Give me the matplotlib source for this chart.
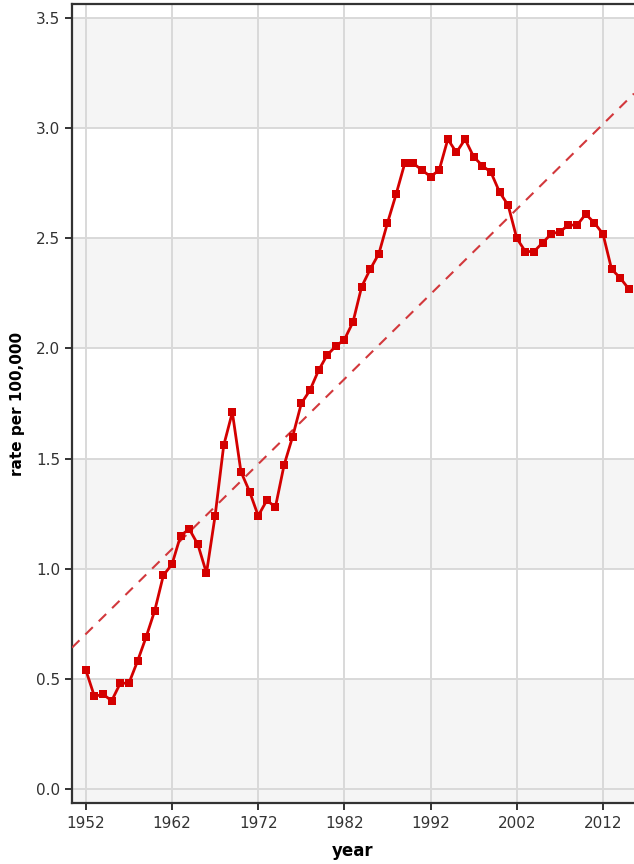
import numpy as np
import matplotlib
matplotlib.use("Agg")
import matplotlib.pyplot as plt

# Annual rate per 100,000, 1952-2015
years = list(range(1952, 2016))
rates = [
    0.54, 0.42, 0.43, 0.40, 0.48, 0.48, 0.58, 0.69, 0.81, 0.97,   # 1952-1961
    1.02, 1.15, 1.18, 1.11, 0.98, 1.24, 1.56, 1.71, 1.44, 1.35,   # 1962-1971
    1.24, 1.31, 1.28, 1.47, 1.60, 1.75, 1.81, 1.90, 1.97, 2.01,   # 1972-1981
    2.04, 2.12, 2.28, 2.36, 2.43, 2.57, 2.70, 2.84, 2.84, 2.81,   # 1982-1991
    2.78, 2.81, 2.95, 2.89, 2.95, 2.87, 2.83, 2.80, 2.71, 2.65,   # 1992-2001
    2.50, 2.44, 2.44, 2.48, 2.52, 2.53, 2.56, 2.56, 2.61, 2.57,   # 2002-2011
    2.52, 2.36, 2.32, 2.27,                                       # 2012-2015
]
x_ticks = [1952, 1962, 1972, 1982, 1992, 2002, 2012]
y_ticks = [0.0, 0.5, 1.0, 1.5, 2.0, 2.5, 3.0, 3.5]

LINE_RED = "#d40000"
TREND_RED = "#d2383c"
GRID = "#d9d9d9"
BAND = "#f5f5f5"
DARK = "#333333"

fig = plt.figure(figsize=(6.34, 8.64), dpi=100)
ax = fig.add_axes([0.1136, 0.0706, 0.8864, 0.9248])

xlim = (1950.4, 2015.6)
ylim = (-0.064, 3.564)
ax.set_xlim(*xlim)
ax.set_ylim(*ylim)

# alternating horizontal bands
edges = [ylim[0]] + y_ticks[1:] + [ylim[1]]
for i in range(len(edges) - 1):
    if i % 2 == 0:
        ax.axhspan(edges[i], edges[i + 1], color=BAND, zorder=0, lw=0)

ax.set_xticks(x_ticks)
ax.set_yticks(y_ticks)
ax.set_yticklabels([f"{v:.1f}" for v in y_ticks])
ax.grid(True, color=GRID, lw=1.4, zorder=1)
ax.set_axisbelow(True)

# linear trend over the series
yr = np.array(years, dtype=float)
rt = np.array(rates)
slope, intercept = np.polyfit(yr, rt, 1)
xt = np.array(xlim)
ax.plot(xt, slope * xt + intercept, ls=(0, (5, 4)), color=TREND_RED, lw=1.5, zorder=3)

ax.plot(years, rates, color=LINE_RED, lw=2.0, marker="s", ms=6.0,
        markeredgewidth=0, zorder=4)

for side in ("left", "bottom", "top"):
    ax.spines[side].set_color(DARK)
    ax.spines[side].set_linewidth(1.6)
ax.spines["right"].set_visible(False)

ax.tick_params(axis="both", direction="out", length=5, width=1.4, color=DARK,
               labelsize=11, labelcolor=DARK)
ax.tick_params(axis="x", pad=4)

ax.set_xlabel("year", fontsize=12, fontweight="bold", color="black", labelpad=8)
ax.set_ylabel("rate per 100,000", fontsize=11, fontweight="bold", color="black", labelpad=8)

fig.savefig("out.png", dpi=100)
